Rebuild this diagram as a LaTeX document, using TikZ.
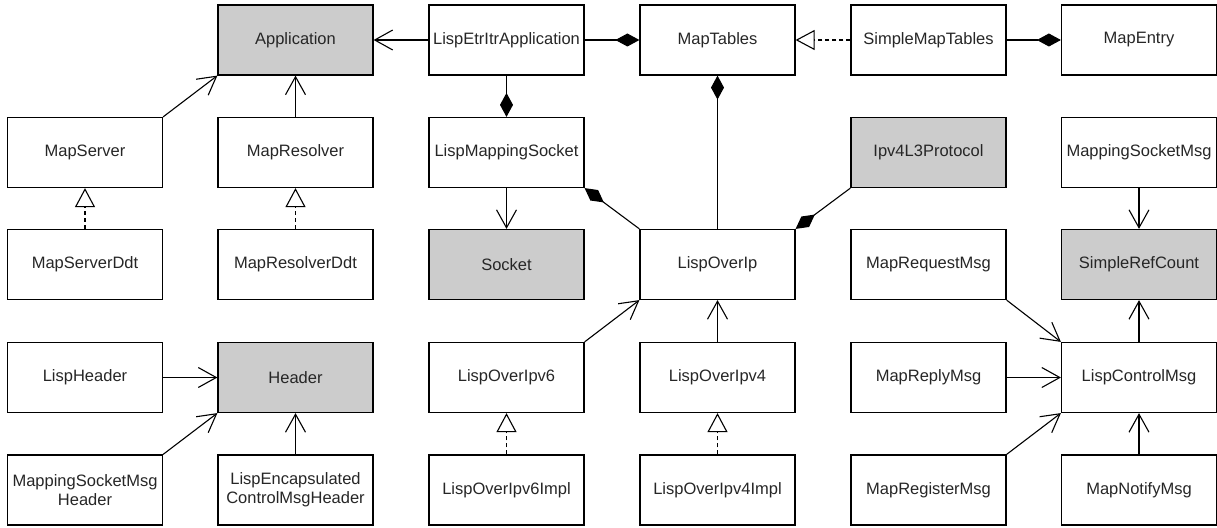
\documentclass[tikz,border=0pt]{standalone}
\usepackage{fontspec}
\setmainfont{Liberation Sans}
\usetikzlibrary{arrows.meta}
\begin{document}
\begin{tikzpicture}[
    x=1pt, y=-1pt,
    every node/.style={draw, line width=1.2pt, minimum width=155pt, minimum height=70pt,
        inner sep=2pt, align=center, text=black!85, font=\fontsize{16.5pt}{19pt}\selectfont},
    base/.style={fill=black!20},
    assoc/.style={line width=1.1pt, -{Straight Barb[length=18pt,width=20pt]}},
    realize/.style={line width=1.1pt, dash pattern=on 4pt off 3pt,
        -{Triangle[open,length=19pt,width=20pt,fill=white,line width=1.1pt]}},
    comp/.style={line width=1.1pt, -{Diamond[length=24pt,width=13pt]}}
]
\useasboundingbox (0,0) rectangle (1217,527);
% row 1
\node[base] (app) at (295.5,40) {Application};
\node (etrItr) at (506.5,40) {LispEtrItrApplication};
\node (mapTables) at (717.5,40) {MapTables};
\node (simpleTables) at (928.5,40) {SimpleMapTables};
\node (mapEntry) at (1139,40) {MapEntry};
% row 2
\node (mapServer) at (85,152.5) {MapServer};
\node (mapResolver) at (295.5,152.5) {MapResolver};
\node (mapSocket) at (506.5,152.5) {LispMappingSocket};
\node[base] (ipv4Proto) at (928.5,152.5) {Ipv4L3Protocol};
\node (sockMsg) at (1139,152.5) {MappingSocketMsg};
% row 3
\node (serverDdt) at (85,264.5) {MapServerDdt};
\node (resolverDdt) at (295.5,264.5) {MapResolverDdt};
\node[base] (socket) at (506.5,264.5) {Socket};
\node (overIp) at (717.5,264.5) {LispOverIp};
\node (requestMsg) at (928.5,264.5) {MapRequestMsg};
\node[base] (refCount) at (1139,264.5) {SimpleRefCount};
% row 4
\node (lispHeader) at (85,377.5) {LispHeader};
\node[base] (header) at (295.5,377.5) {Header};
\node (overIpv6) at (506.5,377.5) {LispOverIpv6};
\node (overIpv4) at (717.5,377.5) {LispOverIpv4};
\node (replyMsg) at (928.5,377.5) {MapReplyMsg};
\node (controlMsg) at (1139,377.5) {LispControlMsg};
% row 5
\node (sockMsgHeader) at (85,490) {MappingSocketMsg\\Header};
\node (encapHeader) at (295.5,490) {LispEncapsulated\\ControlMsgHeader};
\node (ipv6Impl) at (506.5,490) {LispOverIpv6Impl};
\node (ipv4Impl) at (717.5,490) {LispOverIpv4Impl};
\node (registerMsg) at (928.5,490) {MapRegisterMsg};
\node (notifyMsg) at (1139,490) {MapNotifyMsg};

% connectors
\draw[assoc] (etrItr) -- (app);
\draw[assoc] (mapServer.north east) -- (app.south west);
\draw[assoc] (mapResolver) -- (app);
\draw[assoc] (mapSocket) -- (socket);
\draw[assoc] (lispHeader) -- (header);
\draw[assoc] (sockMsgHeader.north east) -- (header.south west);
\draw[assoc] (encapHeader) -- (header);
\draw[assoc] (overIpv6.north east) -- (overIp.south west);
\draw[assoc] (overIpv4) -- (overIp);
\draw[assoc] (sockMsg) -- (refCount);
\draw[assoc] (controlMsg) -- (refCount);
\draw[assoc] (requestMsg.south east) -- (controlMsg.north west);
\draw[assoc] (replyMsg) -- (controlMsg);
\draw[assoc] (registerMsg.north east) -- (controlMsg.south west);
\draw[assoc] (notifyMsg) -- (controlMsg);

\draw[comp] (etrItr) -- (mapTables);
\draw[comp] (simpleTables) -- (mapEntry);
\draw[comp] (etrItr) -- (mapSocket);
\draw[comp] (overIp) -- (mapTables);
\draw[comp] (overIp.north west) -- (mapSocket.south east);
\draw[comp] (ipv4Proto.south west) -- (overIp.north east);

\draw[realize] (simpleTables) -- (mapTables);
\draw[realize] (serverDdt) -- (mapServer);
\draw[realize] (resolverDdt) -- (mapResolver);
\draw[realize] (ipv6Impl) -- (overIpv6);
\draw[realize] (ipv4Impl) -- (overIpv4);
\end{tikzpicture}
\end{document}
